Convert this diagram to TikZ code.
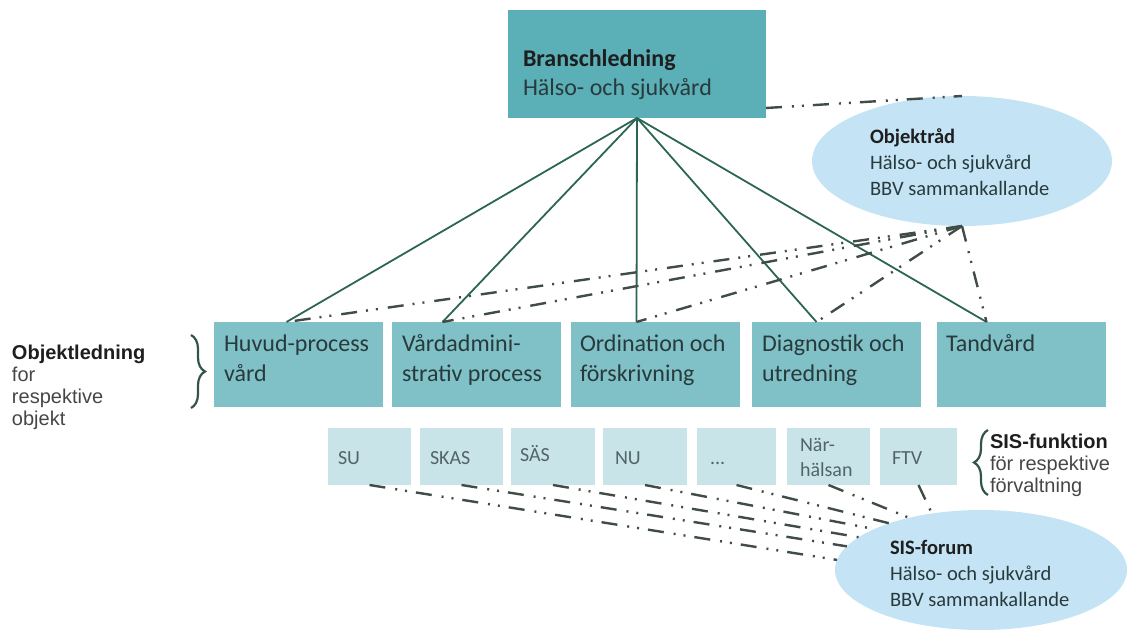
\documentclass[tikz,border=0pt]{standalone}
\usepackage{fontspec}
\setmainfont{Carlito}
\newfontfamily\arialfont{Liberation Sans}
\usetikzlibrary{shapes.geometric,decorations.pathreplacing}

\definecolor{branchfill}{RGB}{91,175,183}
\definecolor{rowfill}{RGB}{128,193,199}
\definecolor{sisfill}{RGB}{200,228,232}
\definecolor{ovalfill}{RGB}{196,228,246}
\definecolor{treeline}{RGB}{44,102,82}
\definecolor{linkline}{RGB}{64,76,70}
\definecolor{boxink}{RGB}{40,58,60}
\definecolor{sisink}{RGB}{82,100,104}
\definecolor{bracecol}{RGB}{52,84,72}
\definecolor{labelink}{RGB}{30,30,30}
\definecolor{softink}{RGB}{70,70,70}

% left-aligned stack of lines whose baseline is the first line
\newcommand\stacklines[1]{\vtop{\halign{##\hfil\cr#1\crcr}}}

\begin{document}
\begin{tikzpicture}[x=1pt,y=-1pt,
  every node/.style={inner sep=0pt, outer sep=0pt},
  topbox/.style={rectangle, fill=branchfill, minimum width=258pt, minimum height=108pt, anchor=north west},
  rowbox/.style={rectangle, fill=rowfill, minimum width=169pt, minimum height=85pt, anchor=north west},
  sisbox/.style={rectangle, fill=sisfill, minimum width=#1, minimum height=57pt, anchor=north west},
  oval/.style={ellipse, fill=ovalfill, inner sep=0pt},
  boxtext/.style={anchor=base west, text=boxink, font=\fontsize{24}{29.5}\selectfont},
  sistext/.style={anchor=base west, text=sisink, font=\fontsize{20}{25}\selectfont},
  ovaltext/.style={anchor=base west, text=boxink, font=\fontsize{20.5}{26}\selectfont},
  sidetext/.style={anchor=base west, text=softink, font=\arialfont\fontsize{20}{22}\selectfont},
  tree/.style={draw=treeline, line width=1.8pt},
  link/.style={draw=linkline, line width=2.4pt, dash pattern=on 16pt off 10pt on 2pt off 8pt on 2pt off 9pt},
  bracket/.style={draw=bracecol, line width=2.2pt, decorate, decoration={brace, amplitude=14pt}}
]
\useasboundingbox (0,0) rectangle (1127,632);

% --- top level ---
\node[topbox] (branch) at (508,10) {};
\node[boxtext] (branchtxt) at ([xshift=15pt, yshift=-56pt]branch.north west)
  {\stacklines{\textcolor{labelink}{\textbf{Branschledning}}\cr Hälso- och sjukvård}};

% --- councils ---
\node[oval, minimum width=300pt, minimum height=130pt] (objrad) at (962,161) {};
\node[ovaltext] (objradtxt) at ([xshift=-92pt, yshift=18pt]objrad.center)
  {\stacklines{\textcolor{labelink}{\textbf{Objektråd}}\cr Hälso- och sjukvård\cr BBV sammankallande}};

\node[oval, minimum width=292pt, minimum height=120pt] (sisforum) at (981,570) {};
\node[ovaltext] (sisforumtxt) at ([xshift=-91pt, yshift=16pt]sisforum.center)
  {\stacklines{\textcolor{labelink}{\textbf{SIS-forum}}\cr Hälso- och sjukvård\cr BBV sammankallande}};

% --- objects ---
\node[rowbox] (huvud) at (214,322) {};
\node[rowbox] (vard)  at (392,322) {};
\node[rowbox] (ord)   at (571,322) {};
\node[rowbox] (diag)  at (752,322) {};
\node[rowbox] (tand)  at (937,322) {};

\node[boxtext] (huvudtxt) at ([xshift=10pt, yshift=-29.5pt]huvud.north west) {\stacklines{Huvud-process\cr vård}};
\node[boxtext] (vardtxt)  at ([xshift=10pt, yshift=-29.5pt]vard.north west)  {\stacklines{Vårdadmini-\cr strativ process}};
\node[boxtext] (ordtxt)   at ([xshift=9pt,  yshift=-29.5pt]ord.north west)   {\stacklines{Ordination och\cr förskrivning}};
\node[boxtext] (diagtxt)  at ([xshift=10pt, yshift=-29.5pt]diag.north west)  {\stacklines{Diagnostik och\cr utredning}};
\node[boxtext] (tandtxt)  at ([xshift=9pt,  yshift=-29.5pt]tand.north west)  {Tandvård};

% --- administrations ---
\node[sisbox=83pt] (su)   at (328,428) {};
\node[sisbox=83pt] (skas) at (420,428) {};
\node[sisbox=84pt] (sas)  at (511,428) {};
\node[sisbox=84pt] (nu)   at (603,428) {};
\node[sisbox=79pt] (etc)  at (697,428) {};
\node[sisbox=83pt] (nar)  at (787,428) {};
\node[sisbox=77pt] (ftv)  at (880,428) {};

\node[sistext] (sutxt)   at ([xshift=10pt, yshift=-36pt]su.north west)   {SU};
\node[sistext] (skastxt) at ([xshift=10pt, yshift=-36pt]skas.north west) {SKAS};
\node[sistext] (sastxt)  at ([xshift=9pt,  yshift=-33pt]sas.north west)  {SÄS};
\node[sistext] (nutxt)   at ([xshift=12pt, yshift=-36pt]nu.north west)   {NU};
\node[sistext] (etctxt)  at ([xshift=13pt, yshift=-36pt]etc.north west)  {...};
\node[sistext] (nartxt)  at ([xshift=13pt, yshift=-23pt]nar.north west)  {\stacklines{När-\cr hälsan}};
\node[sistext] (ftvtxt)  at ([xshift=12pt, yshift=-36pt]ftv.north west)  {FTV};

% --- side labels ---
\node[sidetext] (objlabel) at (12,359)
  {\stacklines{\textcolor{labelink}{\textbf{Objektledning}}\cr for\cr respektive\cr objekt}};
\node[sidetext] (sislabel) at (990,448)
  {\stacklines{\textcolor{labelink}{\textbf{SIS-funktion}}\cr för respektive\cr förvaltning}};

\draw[bracket] (191,335) -- (191,408);
\draw[bracket] (988,495) -- (988,430);

% --- attachment points on the object boxes ---
\coordinate (huvudT) at ([xshift=-12pt]huvud.north);
\coordinate (vardT)  at ([xshift=-34pt]vard.north);
\coordinate (ordT)   at ([xshift=-19pt]ord.north);
\coordinate (diagT)  at ([xshift=-20pt]diag.north);
\coordinate (tandT)  at ([xshift=-35pt]tand.north);

% --- line management ---
\draw[tree] (branch.south) -- (huvudT);
\draw[tree] (branch.south) -- (vardT);
\draw[tree] (branch.south) -- (ordT);
\draw[tree] (branch.south) -- (diagT);
\draw[tree] (branch.south) -- (tandT);

% --- council links ---
\draw[link] ([yshift=10pt]branch.south east) -- (objrad.north);
\draw[link] (objrad.south) -- (huvudT);
\draw[link] (objrad.south) -- (vardT);
\draw[link] (objrad.south) -- (ordT);
\draw[link] (objrad.south) -- (diagT);
\draw[link] (objrad.south) -- (tandT);

\draw[link] (su.south)   -- (sisforum.176);
\draw[link] (skas.south) -- (sisforum.170);
\draw[link] (sas.south)  -- (sisforum.165);
\draw[link] (nu.south)   -- (sisforum.159);
\draw[link] (etc.south)  -- (sisforum.153);
\draw[link] (nar.south)  -- (sisforum.144);
\draw[link] (ftv.south)  -- (sisforum.131);
\end{tikzpicture}
\end{document}
